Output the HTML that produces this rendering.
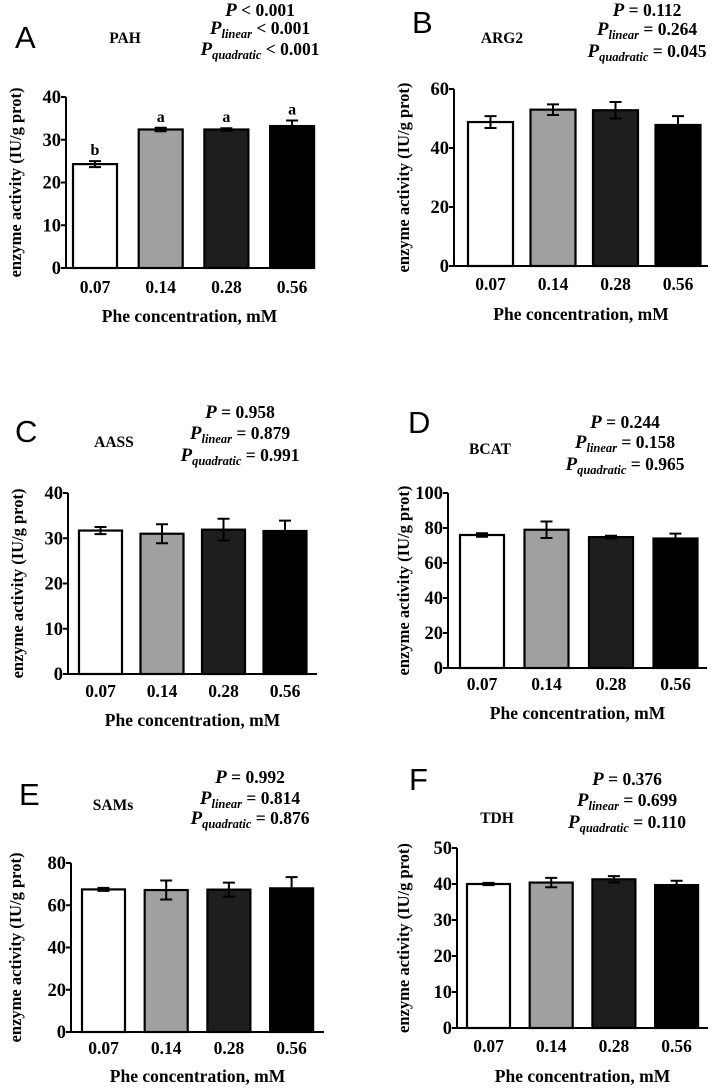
<!DOCTYPE html>
<html><head><meta charset="utf-8"><style>
html,body{margin:0;padding:0;background:#fff;}
svg{display:block;}
text{font-family:"Liberation Serif",serif;font-weight:bold;fill:#000;}
.lt{font-family:"Liberation Sans",sans-serif;font-weight:normal;font-size:31px;}
</style></head><body>
<svg id="fig" width="715" height="1089" viewBox="0 0 715 1089" xmlns="http://www.w3.org/2000/svg"></svg>
<script>
const categories = ["0.07","0.14","0.28","0.56"];
const panelLetters = ["A","B","C","D","E","F"];
const panelTitles = ["PAH","ARG2","AASS","BCAT","SAMs","TDH"];
const meansA = [24.3,32.4,32.4,33.2], errA = [0.7,0.4,0.3,1.3];
const meansB = [48.8,53.0,52.8,47.8], errB = [2.0,1.8,2.8,3.0];
const meansC = [31.7,31.0,31.9,31.6], errC = [0.8,2.1,2.4,2.3];
const meansD = [76.0,79.0,74.8,74.0], errD = [1.0,4.7,0.8,2.8];
const meansE = [67.5,67.2,67.4,68.0], errE = [0.7,4.5,3.3,5.3];
const meansF = [40.0,40.4,41.3,39.7], errF = [0.3,1.3,0.9,1.2];
const ticksA = [0,10,20,30,40], ticksB = [0,20,40,60], ticksC = [0,10,20,30,40];
const ticksD = [0,20,40,60,80,100], ticksE = [0,20,40,60,80], ticksF = [0,10,20,30,40,50];
const sigLettersA = ["b","a","a","a"];
const pOverall = ["< 0.001","= 0.112","= 0.958","= 0.244","= 0.992","= 0.376"];
const pLinear = ["< 0.001","= 0.264","= 0.879","= 0.158","= 0.814","= 0.699"];
const pQuad = ["< 0.001","= 0.045","= 0.991","= 0.965","= 0.876","= 0.110"];
const allMeans=[meansA,meansB,meansC,meansD,meansE,meansF];
const allErr=[errA,errB,errC,errD,errE,errF];
const allTicks=[ticksA,ticksB,ticksC,ticksD,ticksE,ticksF];
const fills=["#ffffff","#a0a0a0","#1e1e1e","#000000"];
const L=[
 {ax:66,top:97,bot:268,right:313,b0:73,sp:65.7,bw:44,let:[15,48],ttl:[125,43],pc:260,py:[16,34,55],tky:293,xty:322,ylx:16},
 {ax:454,top:89,bot:266,right:708,b0:468,sp:62.5,bw:45,let:[412,33],ttl:[502,43],pc:647,py:[16,35,57],tky:290,xty:320,ylx:404},
 {ax:68,top:493,bot:674,right:317,b0:79,sp:61.5,bw:43,let:[15,442],ttl:[114,447],pc:240,py:[418,439,461],tky:697,xty:726,ylx:18},
 {ax:448,top:493,bot:668,right:707,b0:460,sp:64.5,bw:44,let:[408,433],ttl:[490,454],pc:625,py:[428,448,470],tky:690,xty:719,ylx:404},
 {ax:71,top:863,bot:1032,right:324,b0:82,sp:62.7,bw:43,let:[19,805],ttl:[113,810],pc:250,py:[783,804,824],tky:1054,xty:1082,ylx:16},
 {ax:457,top:848,bot:1028,right:708,b0:467,sp:62.7,bw:43,let:[409,790],ttl:[497,823],pc:627,py:[785,806,828],tky:1052,xty:1082,ylx:404}
];
const NS="http://www.w3.org/2000/svg";
const svg=document.getElementById("fig");
function mk(tag,attrs,parent){const e=document.createElementNS(NS,tag);for(const k in attrs)e.setAttribute(k,attrs[k]);(parent||svg).appendChild(e);return e;}
L.forEach((g,p)=>{
 const means=allMeans[p], errs=allErr[p], ticks=allTicks[p];
 const ymax=ticks[ticks.length-1];
 const y=v=>g.bot-(v/ymax)*(g.bot-g.top);
 const grp=mk("g",{});
 
 
 const lt=mk("text",{x:g.let[0],y:g.let[1],class:"lt"},grp);lt.textContent=panelLetters[p];
 
 
 const tt=mk("text",{x:g.ttl[0],y:g.ttl[1],"text-anchor":"middle","font-size":"15.5"},grp);tt.textContent=panelTitles[p];
 
 
 const plines=[["",pOverall[p]],["linear",pLinear[p]],["quadratic",pQuad[p]]];
 plines.forEach((pl,i)=>{
  const t=mk("text",{x:g.pc,y:g.py[i],"text-anchor":"middle","font-size":"17.5"},grp);
  
  
  const a=mk("tspan",{"font-style":"italic","font-size":"19"},t);a.textContent="P";
  if(pl[0]){const s=mk("tspan",{"font-style":"italic","font-size":"12.5",dy:"4"},t);s.textContent=pl[0];
   const r=mk("tspan",{dy:"-4"},t);r.textContent=" "+pl[1];}
  else{const r=mk("tspan",{},t);r.textContent=" "+pl[1];}
 });
 means.forEach((m,i)=>{
  const x=g.b0+i*g.sp;
  const r=mk("rect",{x:x,y:y(m),width:g.bw,height:g.bot-y(m),fill:fills[i],stroke:"#000","stroke-width":2.2},grp);
  
  
  const cx=x+g.bw/2, e=errs[i];
  const eb=mk("path",{d:`M${cx},${y(m+e)}V${y(m-e)}M${cx-6},${y(m+e)}h12M${cx-6},${y(m-e)}h12`,stroke:"#000","stroke-width":2,fill:"none"},grp);
  
  
  const tl=mk("text",{x:cx,y:g.tky,"text-anchor":"middle","font-size":"17.5"},grp);tl.textContent=categories[i];
  
  
  if(p===0){const s=mk("text",{x:cx,y:y(m+e)-6,"text-anchor":"middle","font-size":"16"},grp);s.textContent=sigLettersA[i];
   
   }
 });
 const axes=mk("path",{d:`M${g.ax},${g.top}V${g.bot}H${g.right}`,stroke:"#000","stroke-width":2,fill:"none"},grp);
 
 
 ticks.forEach(t=>{
  mk("line",{x1:g.ax-5,x2:g.ax,y1:y(t),y2:y(t),stroke:"#000","stroke-width":2},grp);
  const tl=mk("text",{x:g.ax-5,y:y(t)+6,"text-anchor":"end","font-size":"18.5"},grp);tl.textContent=t;
  
  
 });
 const xt=mk("text",{x:(g.ax+g.right)/2,y:g.xty,"text-anchor":"middle","font-size":"17.5"},grp);xt.textContent="Phe concentration, mM";
 
 
 const cy=(g.top+g.bot)/2;
 const yt=mk("text",{x:g.ylx,y:cy,"text-anchor":"middle","font-size":"16.5",transform:`rotate(-90 ${g.ylx} ${cy})`,dy:"5"},grp);yt.textContent="enzyme activity (IU/g prot)";
 
 
});
</script>
</body></html>
